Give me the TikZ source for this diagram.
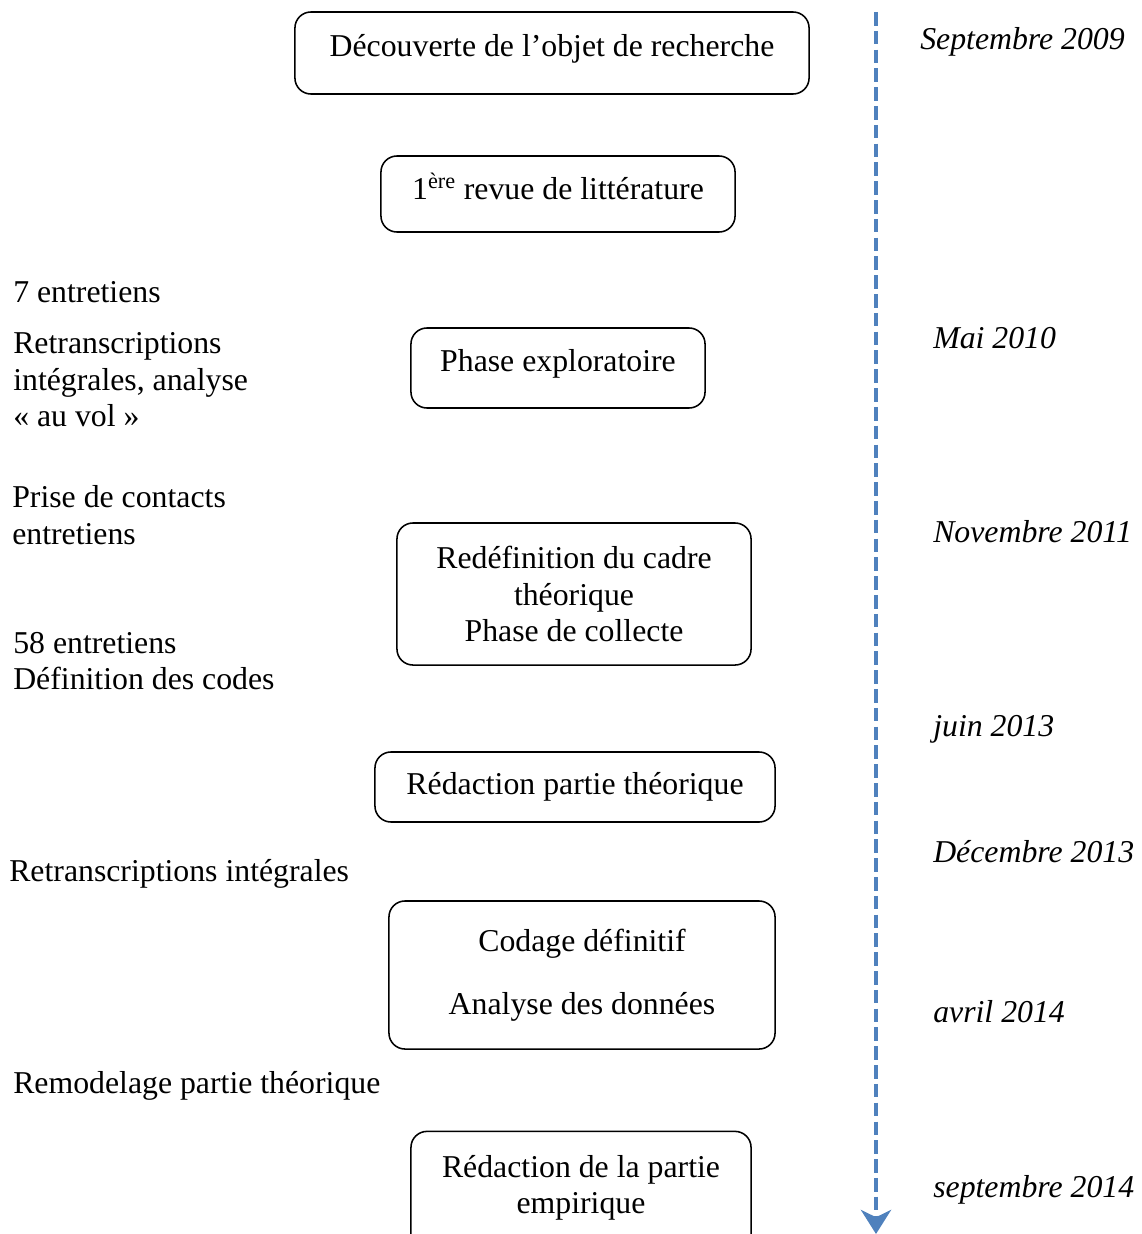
\documentclass[tikz,border=0pt]{standalone}
\usepackage{fontspec}
\setmainfont{Liberation Serif}
\usetikzlibrary{arrows.meta}
\begin{document}
\begin{tikzpicture}[
  x=0.025cm, y=-0.025cm,
  font=\fontsize{22.6}{26}\selectfont,
  phase/.style={draw, rounded corners=0.4cm, line width=1.1pt, align=center},
  lifted/.style={text depth=0.38cm},
  note/.style={anchor=west, align=left, inner sep=0pt},
  date/.style={anchor=west, inner sep=0pt, font=\fontsize{22.6}{26}\selectfont\itshape},
  timeline/.style={draw={rgb,255:red,79;green,129;blue,189}, line width=3pt,
                   dash pattern=on 0.34cm off 0.13cm,
                   -{Stealth[length=0.6cm, width=0.75cm, inset=0.18cm]}}
]
\useasboundingbox (0,0) rectangle (1142,1234);

\node[phase, lifted, minimum width=12.85cm, minimum height=2.05cm] (decouverte) at (552,53)  {Découverte de l’objet de recherche};
\node[phase, lifted, minimum width=8.85cm,  minimum height=1.9cm]  (revue)      at (558,194) {1\textsuperscript{ère} revue de littérature};
\node[phase, lifted, minimum width=7.35cm,  minimum height=2.0cm]  (explo)      at (558,368) {Phase exploratoire};
\node[phase, minimum width=8.85cm,  minimum height=3.55cm] (redef)      at (574,594) {Redéfinition du cadre\\théorique\\Phase de collecte};
\node[phase, minimum width=10.0cm,  minimum height=1.75cm] (theorie)    at (575,787) {Rédaction partie théorique};
\node[phase, minimum width=9.65cm,  minimum height=3.7cm]  (codage)     at (582,975) {Codage définitif\\[0.66cm]Analyse des données};
\node[phase, lifted, minimum width=8.5cm,   minimum height=3.03cm] (empirique)  at (581,1192) {Rédaction de la partie\\empirique};

\node[note] (entretiens)  at (13,292)  {7 entretiens};
\node[note] (retrans)     at (13,380)  {Retranscriptions\\intégrales, analyse\\« au vol »};
\node[note] (contacts)    at (12,515)  {Prise de contacts\\entretiens};
\node[note] (codes)       at (13,661)  {58 entretiens\\Définition des codes};
\node[note] (integrales)  at (9,874)   {Retranscriptions intégrales};
\node[note] (remodelage)  at (13,1086) {Remodelage partie théorique};

\node[date] (sept09) at (920,42)   {Septembre 2009};
\node[date] (mai10)  at (933,338)  {Mai 2010};
\node[date] (nov11)  at (933,532)  {Novembre 2011};
\node[date] (juin13) at (933,729)  {juin 2013};
\node[date] (dec13)  at (933,852)  {Décembre 2013};
\node[date] (avr14)  at (933,1012) {avril 2014};
\node[date] (sept14) at (933,1190) {septembre 2014};

\coordinate (debut) at (876,12);
\coordinate (fin)   at (876,1234);
\draw[timeline] (debut) -- (fin);
\end{tikzpicture}
\end{document}
